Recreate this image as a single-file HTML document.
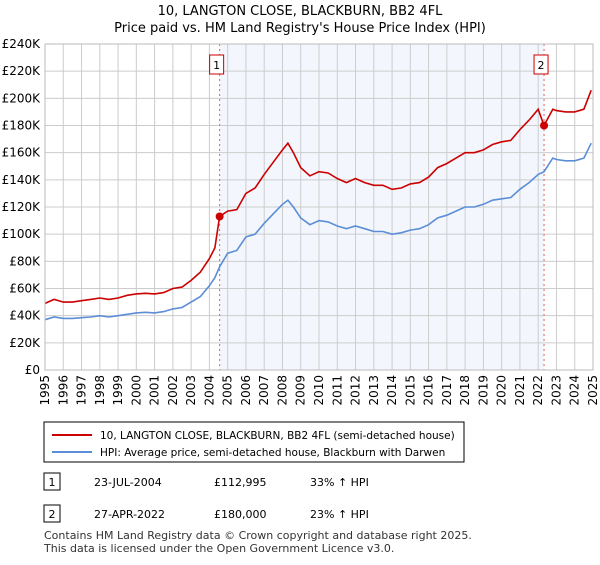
<!DOCTYPE html>
<html><head><meta charset="utf-8"><style>
body{margin:0;background:#fff;font-family:"Liberation Sans","DejaVu Sans",sans-serif;}
svg text{font-family:"DejaVu Sans","Liberation Sans",sans-serif;}
</style></head><body>
<svg id="c" width="600" height="560" viewBox="0 0 600 560">
<text x="300" y="15" text-anchor="middle" font-size="13" fill="#000">10, LANGTON CLOSE, BLACKBURN, BB2 4FL</text>
<text x="300" y="32" text-anchor="middle" font-size="13" fill="#000">Price paid vs. HM Land Registry's House Price Index (HPI)</text>
<g id="plot"></g>
<rect x="44" y="422" width="420" height="40" fill="#fff" stroke="#000"/>
<line x1="52" y1="435" x2="92" y2="435" stroke="#cc0000" stroke-width="2"/>
<text x="100" y="439" font-size="10.5">10, LANGTON CLOSE, BLACKBURN, BB2 4FL (semi-detached house)</text>
<line x1="52" y1="452" x2="92" y2="452" stroke="#5b8ed6" stroke-width="2"/>
<text x="100" y="456" font-size="10.5">HPI: Average price, semi-detached house, Blackburn with Darwen</text>
<rect x="44" y="473" width="16" height="17" fill="#fff" stroke="#000"/>
<text x="52" y="486" font-size="11" text-anchor="middle">1</text>
<text x="94" y="486" font-size="11">23-JUL-2004</text>
<text x="214" y="486" font-size="11">£112,995</text>
<text x="310" y="486" font-size="11">33% ↑ HPI</text>
<rect x="44" y="505" width="16" height="17" fill="#fff" stroke="#000"/>
<text x="52" y="518" font-size="11" text-anchor="middle">2</text>
<text x="94" y="518" font-size="11">27-APR-2022</text>
<text x="214" y="518" font-size="11">£180,000</text>
<text x="310" y="518" font-size="11">23% ↑ HPI</text>
<text x="44" y="539" font-size="11" fill="#333">Contains HM Land Registry data © Crown copyright and database right 2025.</text>
<text x="44" y="552" font-size="11" fill="#333">This data is licensed under the Open Government Licence v3.0.</text>
</svg>
<script>
const times=[1995,1995.5,1996,1996.5,1997,1997.5,1998,1998.5,1999,1999.5,2000,2000.5,2001,2001.5,2002,2002.5,2003,2003.5,2004,2004.3,2004.56,2005,2005.5,2006,2006.5,2007,2007.5,2008,2008.3,2008.6,2009,2009.5,2010,2010.5,2011,2011.5,2012,2012.5,2013,2013.5,2014,2014.5,2015,2015.5,2016,2016.5,2017,2017.5,2018,2018.5,2019,2019.5,2020,2020.5,2021,2021.5,2022,2022.32,2022.8,2023,2023.5,2024,2024.5,2024.9];
const hpi=[37,39,38,38,38.5,39,40,39,40,41,42,42.5,42,43,45,46,50,54,62,68,76,86,88,98,100,108,115,122,125,120,112,107,110,109,106,104,106,104,102,102,100,101,103,104,107,112,114,117,120,120,122,125,126,127,133,138,144,146,156,155,154,154,156,167];
const price=[49,52,50,50,51,52,53,52,53,55,56,56.5,56,57,60,61,66,72,82,90,113,117,118,130,134,144,153,162,167,160,149,143,146,145,141,138,141,138,136,136,133,134,137,138,142,149,152,156,160,160,162,166,168,169,177,184,192,180,192,191,190,190,192,206];
const sales=[{t:2004.56,v:112.995},{t:2022.32,v:180}];
const yTicks=[0,20,40,60,80,100,120,140,160,180,200,220,240];
const xYears=[];for(let y=1995;y<=2025;y++)xYears.push(y);
const X0=45,X1=593,Y0=370,Y1=44;
const xs=t=>X0+(t-1995)/30*(X1-X0);
const ys=v=>Y0-v/240*(Y0-Y1);
const NS='http://www.w3.org/2000/svg';
const g=document.getElementById('plot');
function mk(tag,a,p){const e=document.createElementNS(NS,tag);for(const k in a)e.setAttribute(k,a[k]);(p||g).appendChild(e);return e;}
let r=mk('rect',{x:xs(2004.56),y:Y1,width:xs(2022.32)-xs(2004.56),height:Y0-Y1,fill:'#eef3fc',opacity:0.7});


yTicks.forEach(v=>{
 let l=mk('line',{x1:X0,x2:X1,y1:ys(v),y2:ys(v),stroke:'#ccc'});
 
 
 let t=mk('text',{x:40,y:ys(v)+4,'text-anchor':'end','font-size':12});
 
 
 t.textContent='£'+(v===0?'0':v+'K');
});
xYears.forEach(y=>{
 let l=mk('line',{x1:xs(y),x2:xs(y),y1:Y1,y2:Y0,stroke:'#ccc'});
 
 
 let t=mk('text',{transform:`translate(${xs(y)+4},${Y0+5}) rotate(-90)`,'text-anchor':'end','font-size':12});
 
 
 t.textContent=y;
});
sales.forEach((s,i)=>{
 let l=mk('line',{x1:xs(s.t),x2:xs(s.t),y1:Y1,y2:Y0,stroke:'#e06060','stroke-dasharray':'2,3'});
 
 
 let b=mk('rect',{x:xs(s.t)-10,y:55,width:14,height:19,fill:'#fff',stroke:'#cc0000'});
 
 
 let t=mk('text',{x:xs(s.t)-3,y:69,'text-anchor':'middle','font-size':11});
 
 
 t.textContent=i+1;
});
function line(vals,col,name){
 let p=mk('path',{d:vals.map((v,i)=>(i?'L':'M')+xs(times[i]).toFixed(1)+','+ys(v).toFixed(1)).join(''),fill:'none',stroke:col,'stroke-width':1.6});
 
 
}
line(hpi,'#5b8ed6','hpi-line');
line(price,'#cc0000','price-line');
sales.forEach(s=>{
 let c=mk('circle',{cx:xs(s.t),cy:ys(s.v),r:4,fill:'#cc0000'});
 
 
});
let a=mk('rect',{x:X0,y:Y1,width:X1-X0,height:Y0-Y1,fill:'none',stroke:'#bbb'});


</script>
</body></html>
